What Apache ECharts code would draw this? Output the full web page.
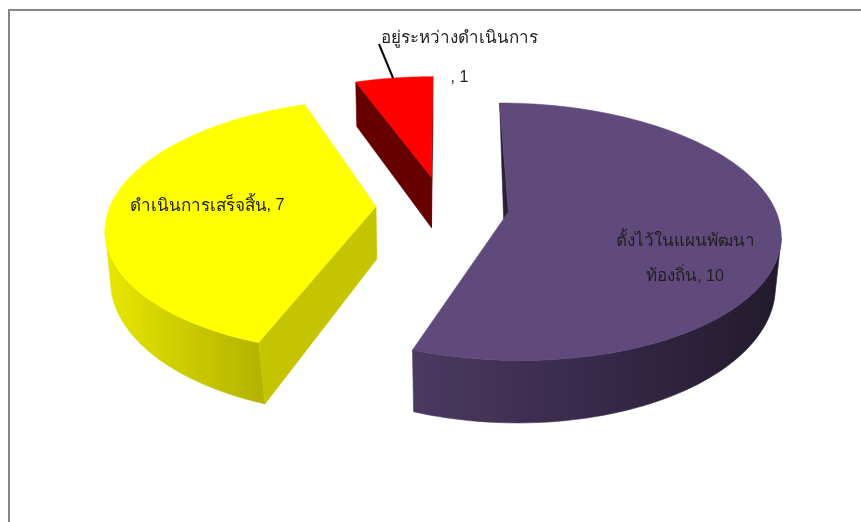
<!DOCTYPE html>
<html>
<head>
<meta charset="utf-8">
<style>html,body{margin:0;padding:0;background:#fff}#c{width:861px;height:522px}</style>
<script src="https://cdn.jsdelivr.net/npm/echarts@6/dist/echarts.min.js"></script>
</head>
<body>
<div id="c"></div>
<script>
const categories = ['ตั้งไว้ในแผนพัฒนาท้องถิ่น', 'ดำเนินการเสร็จสิ้น', 'อยู่ระหว่างดำเนินการ'];
const values = [10, 7, 1];
const labelThai = [['ตั้งไว้ในแผนพัฒนา', 'ท้องถิ่น'], ['ดำเนินการเสร็จสิ้น'], ['อยู่ระหว่างดำเนินการ', '']];
const topColors = ['#604A7B', '#FFFF00', '#FF0000'];
const faceColors = ['#2A2038', '#C4C400', '#660000'];
const wallLeftColors = ['#4A3A60', '#E8E800', '#7A0000'];
const wallMidColors = ['#37294A', '#CCCC00', '#6A0000'];
const wallRightColors = ['#221A2C', '#B4B400', '#5A0000'];

const view = { vx: 442.5, cy: 206.5, R: 266, a: 124, k: 0.153, explode: 0.25, h: 52.5 };
const labelPos = [[685, 259], [207, 206], [459.5, 58]];
const leader = [[379, 44], [393, 78]];
const total = values.reduce((s, v) => s + v, 0);
const THAI_FONT = '"Noto Sans", "DejaVu Sans", sans-serif';
const LATIN_FONT = '"Liberation Sans", Arial, sans-serif';

function project(wx, wy, bottom) {
  const d = 1 - view.k * wy;
  let sx = wx * view.R / d;
  const sy = (view.a * wy + (bottom ? view.h : 0)) / d;
  if (bottom) sx *= 1 - (0.012 + 0.024 * Math.max(wy, 0));
  return [view.vx + sx, view.cy + sy];
}
function renderSlice(params, api) {
  const i = params.dataIndex;
  let before = 0;
  for (let j = 0; j < i; j++) before += values[j];
  const a0 = before / total * Math.PI * 2;
  const a1 = (before + api.value(0)) / total * Math.PI * 2;
  const mid = (a0 + a1) / 2;
  // world coords: x to the right, y toward the viewer; angle clockwise from the back
  const pt = (ang, r) => [
    Math.sin(mid) * view.explode + r * Math.sin(ang),
    -Math.cos(mid) * view.explode - r * Math.cos(ang)
  ];
  const n = 120;
  const arcTop = [], arcBot = [], angs = [];
  for (let s = 0; s <= n; s++) {
    const ang = a0 + (a1 - a0) * s / n;
    const p = pt(ang, 1);
    angs.push(ang);
    arcTop.push(project(p[0], p[1], false));
    arcBot.push(project(p[0], p[1], true));
  }
  const ap = pt(0, 0);
  const apexT = project(ap[0], ap[1], false);
  const apexB = project(ap[0], ap[1], true);
  const children = [];
  const poly = (points, fill) => children.push({
    type: 'polygon', shape: { points }, style: { fill, stroke: fill, lineWidth: 0.6 }
  });

  // outer wall: from the screen-side extreme of the arc round to the front corner
  const facing = [];
  for (let s = 0; s <= n; s++) if (Math.cos(angs[s]) < 0.25) facing.push(s);
  if (facing.length) {
    const rightSide = Math.sin(mid) > 0;
    const ext = facing.reduce((b, s) => (rightSide ? arcTop[s][0] > arcTop[b][0] : arcTop[s][0] < arcTop[b][0]) ? s : b, facing[0]);
    const wall = rightSide ? facing.filter(s => s >= ext) : facing.filter(s => s <= ext);
    const xs = wall.map(s => arcTop[s][0]);
    const grad = {
      type: 'linear', global: true,
      x: Math.min(...xs), y: 0, x2: Math.max(...xs), y2: 0,
      colorStops: [
        { offset: 0, color: wallLeftColors[i] },
        { offset: 0.5, color: wallMidColors[i] },
        { offset: 1, color: wallRightColors[i] }
      ]
    };
    poly(wall.map(s => arcTop[s]).concat(wall.slice().reverse().map(s => arcBot[s])), grad);
  }
  // cut faces, culled by their screen winding
  const area = q => {
    let t = 0;
    q.forEach((p, k) => { const r = q[(k + 1) % q.length]; t += p[0] * r[1] - r[0] * p[1]; });
    return t;
  };
  const f0 = [apexT, arcTop[0], arcBot[0], apexB];
  const f1 = [apexT, arcTop[n], arcBot[n], apexB];
  if (i === 0) {
    // only a sliver of this cut face shows beside the first edge
    const e = arcTop[n];
    poly([arcTop[0], apexT, [apexT[0] + (e[0] - apexT[0]) * 0.05, apexT[1] + (e[1] - apexT[1]) * 0.05]], faceColors[i]);
  } else if (area(f0) < 0) {
    poly(f0, faceColors[i]);
  }
  if (area(f1) > 0) poly(f1, faceColors[i]);
  poly([apexT].concat(arcTop), topColors[i]);

  // label: Thai runs and the value run use different sizes
  const lh = i === 2 ? 39 : 35;
  const lines = labelThai[i].map((t, k) => {
    const last = k === labelThai[i].length - 1;
    return (t ? '{t|' + t + '}' : '') + (last ? '{n|, ' + values[i] + '}' : '');
  });
  children.push({
    type: 'text',
    z2: 10,
    style: {
      text: lines.join('\n'),
      x: labelPos[i][0], y: labelPos[i][1], align: 'center', verticalAlign: 'middle',
      rich: {
        t: { font: '17px ' + THAI_FONT, fill: '#1f1f1f', lineHeight: lh },
        n: { font: '16px ' + LATIN_FONT, fill: '#1f1f1f', lineHeight: lh }
      }
    }
  });
  if (i === 2) {
    children.push({
      type: 'line',
      shape: { x1: leader[0][0], y1: leader[0][1], x2: leader[1][0], y2: leader[1][1] },
      style: { stroke: '#000', lineWidth: 2 }
    });
  }
  return { type: 'group', children };
}
const chart = echarts.init(document.getElementById('c'), null, { renderer: 'canvas' });
chart.setOption({
  animation: false,
  backgroundColor: '#fff',
  graphic: [{
    type: 'polyline', z: -1,
    shape: { points: [[9, 522], [9, 10], [861, 10]] },
    style: { stroke: '#868686', lineWidth: 2, fill: null }
  }],
  series: [{
    type: 'custom',
    coordinateSystem: 'none',
    renderItem: renderSlice,
    data: values.map((v, i) => ({ name: categories[i], value: [v] }))
  }]
});
</script>
</body>
</html>
